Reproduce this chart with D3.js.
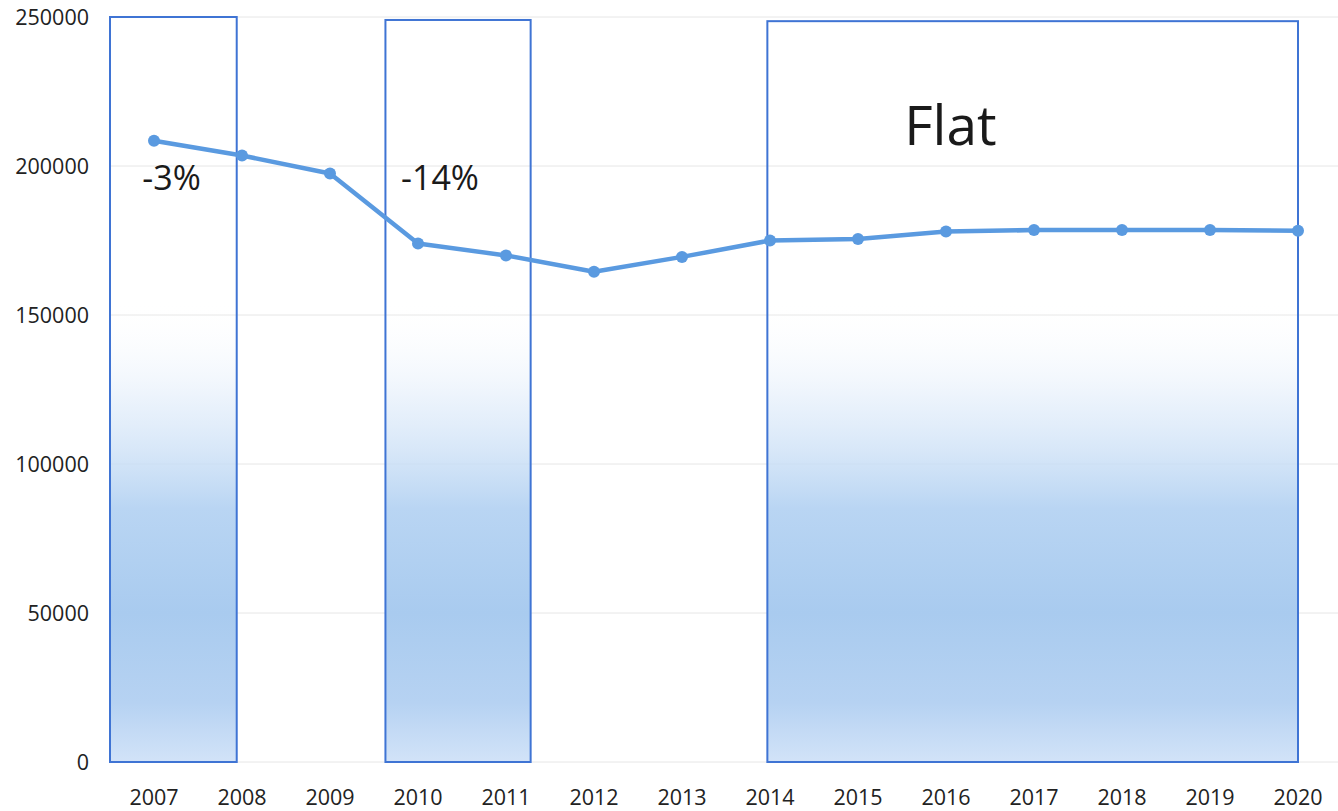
<!DOCTYPE html>
<html lang="en">
<head>
  <meta charset="utf-8">
  <title>Flat trend</title>
  <script src="https://d3js.org/d3.v7.min.js"></script>
  <style>
    body { margin: 0; background: #fff; }
    text { font-family: "Open Sans", "Noto Sans", sans-serif; }
  </style>
</head>
<body>
  <script>
    // chart data
    const years = ["2007", "2008", "2009", "2010", "2011", "2012", "2013",
      "2014", "2015", "2016", "2017", "2018", "2019", "2020"]
    const values = [208500, 203500, 197500, 174000, 170000, 164500, 169500,
      175000, 175500, 178000, 178500, 178500, 178500, 178300]
    const yTicks = [0, 50000, 100000, 150000, 200000, 250000]

    // highlighted periods (in category index units) and their notes
    const boxStart = [-0.5, 2.63, 6.97]
    const boxEnd = [0.94, 4.28, 13.0]
    const boxTop = [250000, 249000, 248600]
    const boxLabels = ["-3%", "-14%", "Flat"]
    const labelAt = [0.2, 3.25, 9.05]
    const labelValue = [192000, 192000, 207000]

    const width = 1338, height = 811
    const margin = { top: 17, right: 0, bottom: 49, left: 110 }

    const svg = d3.select("body").append("svg")
      .attr("width", width)
      .attr("height", height)

    const x = d3.scaleBand()
      .domain(years)
      .range([margin.left, margin.left + 14 * 88])

    const xi = d3.scaleLinear()
      .domain([0, 1])
      .range([x(years[0]) + x.bandwidth() / 2, x(years[1]) + x.bandwidth() / 2])

    const y = d3.scaleLinear()
      .domain([0, 250000])
      .range([height - margin.bottom, margin.top])

    // fade used in the boxes
    const grad = svg.append("defs").append("linearGradient")
      .attr("id", "fade")
      .attr("gradientUnits", "userSpaceOnUse")
      .attr("x1", 0).attr("x2", 0)
      .attr("y1", y(155000)).attr("y2", y(0))
    const stops = [
      [155000, "#ffffff", 0],
      [120000, "#dbe9f9", 0.6],
      [85000, "#b9d5f3", 1],
      [50000, "#a9cbef", 1],
      [20000, "#b6d2f2", 1],
      [0, "#d2e3f8", 1]
    ]
    grad.selectAll("stop")
      .data(stops)
      .join("stop")
      .attr("offset", d => (155000 - d[0]) / 155000)
      .attr("stop-color", d => d[1])
      .attr("stop-opacity", d => d[2])

    // grid
    svg.append("g")
      .selectAll("line")
      .data(yTicks)
      .join("line")
      .attr("x1", margin.left)
      .attr("x2", width)
      .attr("y1", d => y(d))
      .attr("y2", d => y(d))
      .attr("stroke", "#e6e6e6")
      .attr("stroke-width", 1)

    // boxes
    svg.append("g")
      .selectAll("rect")
      .data(boxStart.map((s, i) => ({ s, e: boxEnd[i], top: boxTop[i] })))
      .join("rect")
      .attr("x", d => Math.max(margin.left - 3, xi(d.s)))
      .attr("width", d => xi(d.e) - Math.max(margin.left - 3, xi(d.s)))
      .attr("y", d => y(d.top))
      .attr("height", d => y(0) - y(d.top))
      .attr("fill", "url(#fade)")
      .attr("stroke", "#3f74d4")
      .attr("stroke-width", 2)

    // y axis labels
    svg.append("g")
      .attr("text-anchor", "end")
      .attr("font-size", 21.5)
      .attr("fill", "#222")
      .selectAll("text")
      .data(yTicks)
      .join("text")
      .attr("x", 89)
      .attr("y", d => y(d))
      .attr("dy", "0.35em")
      .text(d => d)

    // x axis labels
    svg.append("g")
      .attr("text-anchor", "middle")
      .attr("font-size", 21.5)
      .attr("fill", "#222")
      .selectAll("text")
      .data(years)
      .join("text")
      .attr("x", d => x(d) + x.bandwidth() / 2)
      .attr("y", 797)
      .attr("dy", "0.35em")
      .text(d => d)

    // line
    const line = d3.line()
      .x((d, i) => x(years[i]) + x.bandwidth() / 2)
      .y(d => y(d))

    svg.append("path")
      .datum(values)
      .attr("d", line)
      .attr("fill", "none")
      .attr("stroke", "#5a9ae0")
      .attr("stroke-width", 4.5)
      .attr("stroke-linejoin", "round")

    svg.append("g")
      .attr("fill", "#5a9ae0")
      .selectAll("circle")
      .data(values)
      .join("circle")
      .attr("cx", (d, i) => x(years[i]) + x.bandwidth() / 2)
      .attr("cy", d => y(d))
      .attr("r", 6)

    // annotations
    svg.append("g")
      .attr("text-anchor", "middle")
      .attr("fill", "#1a1a1a")
      .selectAll("text")
      .data(boxLabels)
      .join("text")
      .attr("x", (d, i) => xi(labelAt[i]))
      .attr("y", (d, i) => y(labelValue[i]))
      .attr("font-size", (d, i) => i === 2 ? 55 : 34)
      .text(d => d)
  </script>
</body>
</html>
